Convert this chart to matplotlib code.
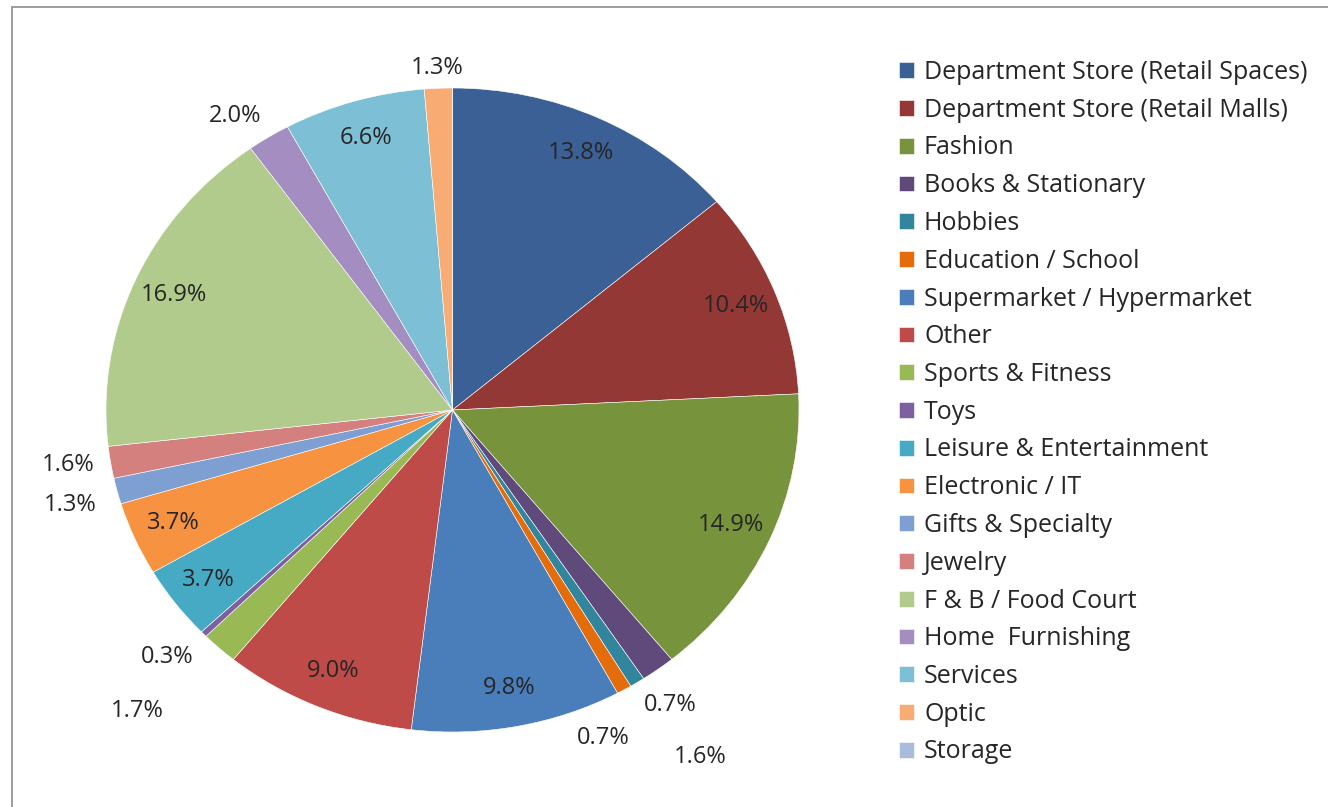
import matplotlib
matplotlib.use("Agg")
import matplotlib.pyplot as plt
import numpy as np
from matplotlib.patches import Rectangle

plt.rcParams["font.family"] = ["Open Sans", "DejaVu Sans"]

categories = [
    "Department Store (Retail Spaces)",
    "Department Store (Retail Malls)",
    "Fashion",
    "Books & Stationary",
    "Hobbies",
    "Education / School",
    "Supermarket / Hypermarket",
    "Other",
    "Sports & Fitness",
    "Toys",
    "Leisure & Entertainment",
    "Electronic / IT",
    "Gifts & Specialty",
    "Jewelry",
    "F & B / Food Court",
    "Home  Furnishing",
    "Services",
    "Optic",
    "Storage",
]
shares = [13.8, 10.4, 14.9, 1.6, 0.7, 0.7, 9.8, 9.0, 1.7, 0.3,
          3.7, 3.7, 1.3, 1.6, 16.9, 2.0, 6.6, 1.3, 0.0]
colors = [
    "#3a6095", "#943836", "#77933c", "#5f4a7b", "#31859c", "#e46c0a",
    "#4a7ebb", "#be4b48", "#98b954", "#7d60a0", "#46aac5", "#f69240",
    "#7e9fd2", "#d3807f", "#b0cb8b", "#a48dc0", "#7dbfd5", "#f9ab74",
    "#a9bcdb",
]

# thin slices get their labels outside the pie (data units, radius 1)
outside_pos = {
    "Books & Stationary": (0.714, -1.078),
    "Hobbies": (0.628, -0.916),
    "Education / School": (0.434, -1.019),
    "Sports & Fitness": (-0.911, -0.935),
    "Toys": (-0.824, -0.767),
    "Gifts & Specialty": (-1.104, -0.295),
    "Jewelry": (-1.110, -0.171),
    "Home  Furnishing": (-0.628, 0.913),
    "Optic": (-0.045, 1.062),
}

W, H = 1328, 807
cx, cy, rx, ry = 452.5, 410, 346.5, 322

fig = plt.figure(figsize=(W / 100, H / 100), dpi=100)
ax = fig.add_axes([(cx - rx) / W, 1 - (cy + ry) / H, 2 * rx / W, 2 * ry / H])
wedges, _ = ax.pie(shares, colors=colors, startangle=90, counterclock=False,
                   radius=1, wedgeprops=dict(edgecolor="white", linewidth=0.4))
ax.set_xlim(-1, 1)
ax.set_ylim(-1, 1)
ax.set_aspect("auto")
ax.axis("off")

for w, cat, v in zip(wedges, categories, shares):
    if v == 0:
        continue
    if cat in outside_pos:
        x, y = outside_pos[cat]
    else:
        mid = np.deg2rad((w.theta1 + w.theta2) / 2)
        x, y = 0.88 * np.cos(mid), 0.88 * np.sin(mid)
    ax.text(x, y, f"{v:.1f}%", ha="center", va="center", fontsize=17,
            color="#262626", clip_on=False)

fig.legend(wedges, categories, loc="upper left",
           bbox_to_anchor=(889 / W, 1 - 50 / H), frameon=False,
           fontsize=18, handlelength=0.6, handleheight=0.6,
           handletextpad=0.4, labelspacing=0.51, borderaxespad=0,
           labelcolor="#262626")

fig.add_artist(Rectangle((12 / W, -0.05), 1.2, 1.05 - 7 / H, transform=fig.transFigure,
                         fill=False, edgecolor="#8c8c8c", linewidth=1.2))

fig.savefig("out.png", dpi=100)
